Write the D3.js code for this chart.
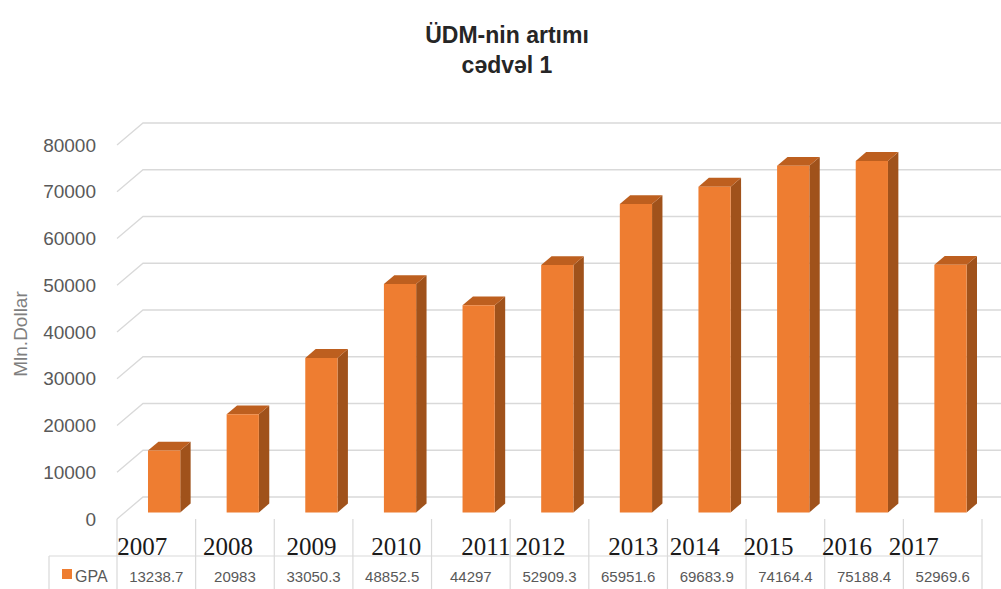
<!DOCTYPE html>
<html>
<head>
<meta charset="utf-8">
<script src="https://cdn.jsdelivr.net/npm/d3@7"></script>
<style>
  html, body { margin: 0; padding: 0; background: #fff; }
  svg { display: block; }
</style>
</head>
<body>
<script>
// ---- data ----
const years = ["2007","2008","2009","2010","2011","2012","2013","2014","2015","2016","2017"];
const gpa = [13238.7, 20983, 33050.3, 48852.5, 44297, 52909.3, 65951.6, 69683.9, 74164.4, 75188.4, 52969.6];
const valueLabels = ["13238.7","20983","33050.3","48852.5","44297","52909.3","65951.6","69683.9","74164.4","75188.4","52969.6"];
const yTicks = [0, 10000, 20000, 30000, 40000, 50000, 60000, 70000, 80000];
const seriesName = "GPA";
const titleLines = ["ÜDM-nin artımı", "cədvəl 1"];
const yTitle = "Mln.Dollar";

// ---- layout (not data) ----
const W = 1001, H = 589;
const yearNudge = [-14, -7, -2, 4, 15, -9, 5, -12, -17, -17, -29];
const depthDx = 26, depthDy = -22;
const barZ0 = 0.3, barZ1 = 0.7;

const svg = d3.select("body").append("svg").attr("width", W).attr("height", H);

const x = d3.scaleBand().domain(years).range([117, 982]).paddingInner(0).paddingOuter(0);
const y = d3.scaleLinear().domain([0, 80000]).range([519, 145]);

// title
svg.append("g").selectAll("text").data(titleLines).join("text")
  .attr("x", 507).attr("y", (d, i) => 43 + i * 30)
  .attr("text-anchor", "middle")
  .style("font-family", "'Liberation Sans', Arial, sans-serif")
  .style("font-weight", "bold").style("font-size", "23px")
  .style("fill", "#262626")
  .text(d => d);

// gridlines: left wall diagonal + back wall horizontal
const grid = svg.append("g");
grid.selectAll("path").data(yTicks).join("path")
  .attr("d", v => {
    const yf = y(v);
    return `M${x.range()[0]},${yf} L${x.range()[0] + depthDx},${yf + depthDy} L${W},${yf + depthDy}`;
  })
  .attr("fill", "none").attr("stroke", "#d9d9d9").attr("stroke-width", 1.3);

// y axis labels
const yAxis = d3.axisLeft(y).tickValues(yTicks).tickSize(0).tickPadding(0).tickFormat(d3.format("d"));
const ga = svg.append("g").attr("transform", "translate(96,0)").call(yAxis);
ga.select(".domain").remove();
ga.selectAll("text")
  .style("font-family", "'Liberation Sans', Arial, sans-serif")
  .style("font-size", "19px").style("fill", "#595959");

// y axis title
svg.append("text")
  .attr("transform", "translate(27,334) rotate(-90)")
  .attr("text-anchor", "middle")
  .style("font-family", "'Liberation Sans', Arial, sans-serif")
  .style("font-size", "19px").style("fill", "#7f7f7f")
  .text(yTitle);

// bars (3D)
const bw = x.bandwidth() * 0.41;
const bars = svg.append("g").selectAll("g").data(years.map((yr, i) => ({ yr, v: gpa[i] }))).join("g");
function pt(px, py, z) { return [px + z * depthDx, py + z * depthDy]; }
bars.each(function(d) {
  const g = d3.select(this);
  const cx = x(d.yr) + x.bandwidth() / 2;
  const xl = cx - bw / 2, xr = cx + bw / 2;
  const yb = y(0), yt = y(d.v);
  const F = [pt(xl, yt, barZ0), pt(xr, yt, barZ0), pt(xr, yb, barZ0), pt(xl, yb, barZ0)];
  const T = [pt(xl, yt, barZ0), pt(xl, yt, barZ1), pt(xr, yt, barZ1), pt(xr, yt, barZ0)];
  const S = [pt(xr, yt, barZ0), pt(xr, yt, barZ1), pt(xr, yb, barZ1), pt(xr, yb, barZ0)];
  const line = p => "M" + p.map(q => q.join(",")).join("L") + "Z";
  g.append("path").attr("d", line(S)).attr("fill", "#a0521b");
  g.append("path").attr("d", line(T)).attr("fill", "#bd5f1f");
  g.append("path").attr("d", line(F)).attr("fill", "#ee7d31");
});

// data table
const tbl = svg.append("g");
const tableTop = 519, rowLine = 556, tableBottom = 589;
const xs = years.map(yr => x(yr)).concat([x.range()[1]]);
tbl.selectAll("line.v").data(xs).join("line").attr("class", "v")
  .attr("x1", d => d).attr("x2", d => d).attr("y1", tableTop).attr("y2", tableBottom)
  .attr("stroke", "#d9d9d9").attr("stroke-width", 1.2);
tbl.append("line").attr("x1", 49).attr("x2", 49).attr("y1", rowLine).attr("y2", tableBottom)
  .attr("stroke", "#d9d9d9").attr("stroke-width", 1.2);
tbl.append("line").attr("x1", 49).attr("x2", x.range()[1]).attr("y1", rowLine).attr("y2", rowLine)
  .attr("stroke", "#d9d9d9").attr("stroke-width", 1.2);

// year labels
tbl.selectAll("text.yr").data(years).join("text").attr("class", "yr")
  .attr("x", (d, i) => x(d) + x.bandwidth() / 2 + yearNudge[i])
  .attr("y", 555)
  .attr("text-anchor", "middle")
  .style("font-family", "'Liberation Serif', 'Times New Roman', serif")
  .style("font-size", "25px").style("fill", "#1a1a1a")
  .text(d => d);

// values row
tbl.selectAll("text.val").data(valueLabels).join("text").attr("class", "val")
  .attr("x", (d, i) => x(years[i]) + x.bandwidth() / 2)
  .attr("y", 582)
  .attr("text-anchor", "middle")
  .style("font-family", "'Liberation Sans', Arial, sans-serif")
  .style("font-size", "15px").style("fill", "#595959")
  .text(d => d);

// legend key
tbl.append("rect").attr("x", 62).attr("y", 569).attr("width", 10).attr("height", 10).attr("fill", "#ee7d31");
tbl.append("text").attr("x", 75).attr("y", 582)
  .style("font-family", "'Liberation Sans', Arial, sans-serif")
  .style("font-size", "16px").style("fill", "#595959")
  .text(seriesName);
</script>
</body>
</html>
